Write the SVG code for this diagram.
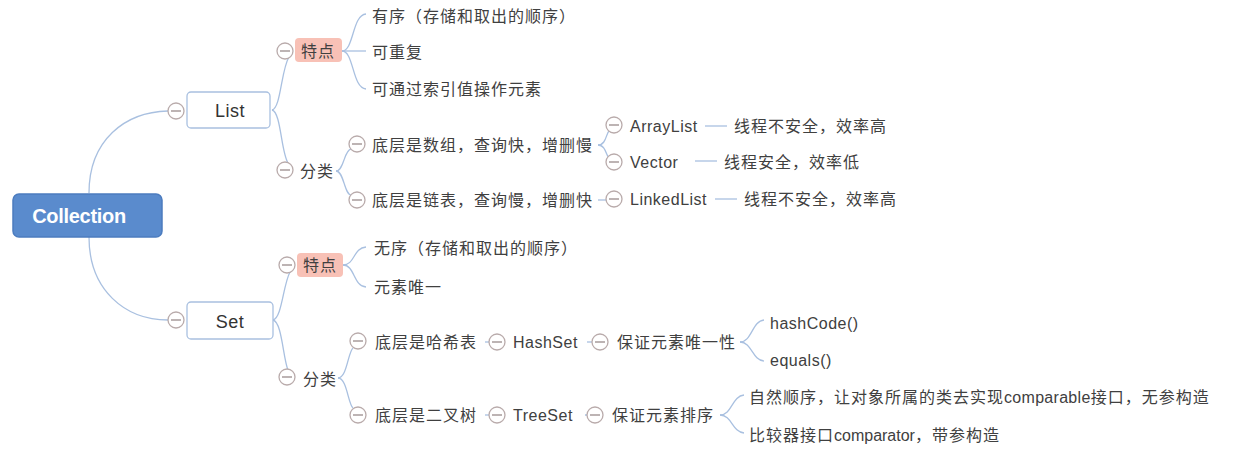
<svg xmlns="http://www.w3.org/2000/svg" width="1240" height="453" viewBox="0 0 1240 453">
<style>
.t{font-family:"Liberation Sans","Noto Sans CJK SC",sans-serif;font-size:16px;fill:#404040;letter-spacing:1px;dominant-baseline:central}
.l{letter-spacing:0.5px}
.c path,.c line{fill:none;stroke:#a9c0e0;stroke-width:1.3}
.tg circle{fill:#fff;stroke:#b9abab;stroke-width:1.3}
.tg line{stroke:#9a8c8c;stroke-width:1.3}
.box{fill:#fff;stroke:#a9c0e0;stroke-width:1.3}
.pink{fill:#f8c1b6}
.big{font-size:18px;letter-spacing:0.5px;fill:#333}
</style>
<defs>
<g id="tog" class="tg"><circle cx="0" cy="0" r="8"/><line x1="-5" y1="0" x2="5" y2="0"/></g>
</defs>
<rect width="1240" height="453" fill="#fff"/>
<g id="connectors" class="c">
<path d="M 89 193 C 89 140, 125 112, 168 111"/>
<path d="M 89 237 C 89 290, 125 320, 168 320"/>
<path d="M 272 110 C 281 108, 281 70, 289 57"/>
<path d="M 272 110 C 281 112, 281 152, 288 163"/>
<path d="M 273 320 C 282 318, 283 285, 290 272"/>
<path d="M 273 320 C 282 322, 283 358, 288 370"/>
<path d="M 342 51 C 354 51, 352 15, 366 14"/>
<path d="M 342 51 L 366 51"/>
<path d="M 342 51 C 354 51, 352 88, 366 89"/>
<path d="M 343 265 C 355 265, 353 248, 366 247"/>
<path d="M 343 265 C 355 265, 353 286, 366 287"/>
<path d="M 336 171 C 344 171, 344 150, 351 149"/>
<path d="M 336 171 C 344 171, 344 194, 351 195"/>
<path d="M 338 378 C 347 378, 348 352, 353 348"/>
<path d="M 338 378 C 347 378, 348 404, 353 408"/>
<path d="M 598 145 C 606 145, 606 134, 609 131"/>
<path d="M 598 145 C 606 145, 606 156, 609 158"/>
<path d="M 598 200 L 606 200"/>
<path d="M 705 126 L 727 126"/>
<path d="M 695 161 L 717 161"/>
<path d="M 715 199 L 737 199"/>
<path d="M 485 342 L 489 342"/>
<path d="M 587 342 L 592 342"/>
<path d="M 485 415 L 489 415"/>
<path d="M 585 415 L 587 415"/>
<path d="M 740 342 C 752 342, 752 321, 764 320"/>
<path d="M 740 342 C 752 342, 752 360, 764 361"/>
<path d="M 720 415 C 732 415, 732 396, 744 395"/>
<path d="M 720 415 C 732 415, 732 432, 744 433"/>
</g>
<g id="collection">
<rect x="13" y="194" width="149" height="43" rx="6" fill="#5a8bcd" stroke="#4c7cbf" stroke-width="1.5"/>
<text x="79" y="216" text-anchor="middle" class="t" style="font-size:20px;font-weight:bold;fill:#fff;letter-spacing:-0.3px">Collection</text>
</g>
<g id="list">
<use href="#tog" x="176" y="111"/>
<rect class="box" x="187" y="92" width="83" height="36" rx="4"/>
<text x="230" y="111" text-anchor="middle" class="t big">List</text>
</g>
<g id="set">
<use href="#tog" x="176" y="320"/>
<rect class="box" x="187" y="302" width="86" height="37" rx="4"/>
<text x="230" y="322" text-anchor="middle" class="t big">Set</text>
</g>
<g id="list-feature">
<use href="#tog" x="285" y="51"/>
<rect class="pink" x="295" y="38" width="47" height="24" rx="4"/>
<text x="318" y="51" text-anchor="middle" class="t">特点</text>
</g>
<g id="list-feature-1"><text x="372" y="16" class="t">有序（存储和取出的顺序）</text></g>
<g id="list-feature-2"><text x="372" y="52" class="t">可重复</text></g>
<g id="list-feature-3"><text x="372" y="89" class="t">可通过索引值操作元素</text></g>
<g id="list-class">
<use href="#tog" x="285" y="170"/>
<text x="300" y="171" class="t">分类</text>
</g>
<g id="array">
<use href="#tog" x="357" y="144"/>
<text x="372" y="145" class="t">底层是数组，查询快，增删慢</text>
</g>
<g id="linked">
<use href="#tog" x="357" y="200"/>
<text x="372" y="200" class="t">底层是链表，查询慢，增删快</text>
</g>
<g id="arraylist">
<use href="#tog" x="614" y="125"/>
<text x="630" y="126" class="t l">ArrayList</text>
</g>
<g id="arraylist-note"><text x="734" y="126" class="t">线程不安全，效率高</text></g>
<g id="vector">
<use href="#tog" x="614" y="162"/>
<text x="630" y="162" class="t l">Vector</text>
</g>
<g id="vector-note"><text x="724" y="162" class="t">线程安全，效率低</text></g>
<g id="linkedlist">
<use href="#tog" x="614" y="199"/>
<text x="630" y="199" class="t l">LinkedList</text>
</g>
<g id="linkedlist-note"><text x="744" y="199" class="t">线程不安全，效率高</text></g>
<g id="set-feature">
<use href="#tog" x="287" y="265"/>
<rect class="pink" x="297" y="253" width="46" height="24" rx="4"/>
<text x="320" y="265" text-anchor="middle" class="t">特点</text>
</g>
<g id="set-feature-1"><text x="374" y="248" class="t">无序（存储和取出的顺序）</text></g>
<g id="set-feature-2"><text x="374" y="287" class="t">元素唯一</text></g>
<g id="set-class">
<use href="#tog" x="287" y="377"/>
<text x="303" y="379" class="t">分类</text>
</g>
<g id="hash">
<use href="#tog" x="358" y="341"/>
<text x="375" y="342" class="t">底层是哈希表</text>
</g>
<g id="hashset">
<use href="#tog" x="497" y="342"/>
<text x="513" y="342" class="t l">HashSet</text>
</g>
<g id="unique">
<use href="#tog" x="600" y="342"/>
<text x="617" y="342" class="t">保证元素唯一性</text>
</g>
<g id="hashcode"><text x="770" y="323" class="t l">hashCode()</text></g>
<g id="equals"><text x="770" y="360" class="t l">equals()</text></g>
<g id="tree">
<use href="#tog" x="358" y="415"/>
<text x="375" y="415" class="t">底层是二叉树</text>
</g>
<g id="treeset">
<use href="#tog" x="497" y="415"/>
<text x="513" y="415" class="t l">TreeSet</text>
</g>
<g id="sorted">
<use href="#tog" x="595" y="415"/>
<text x="612" y="415" class="t">保证元素排序</text>
</g>
<g id="natural"><text x="749" y="397" class="t">自然顺序，让对象所属的类去实现<tspan style="letter-spacing:0.3px">comparable</tspan>接口，无参构造</text></g>
<g id="comparator"><text x="749" y="435" class="t">比较器接口<tspan style="letter-spacing:0px">comparator</tspan>，带参构造</text></g>
</svg>
